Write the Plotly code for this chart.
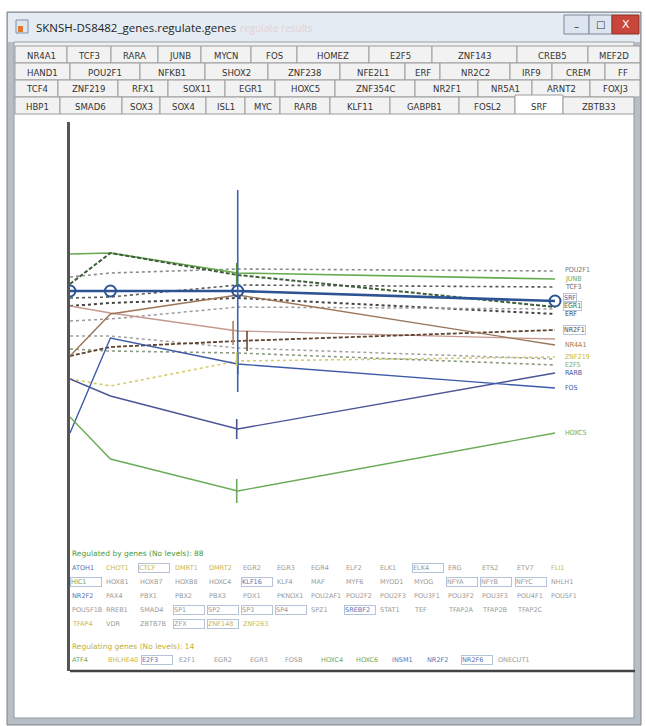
import plotly.graph_objects as go

W, H = 646, 726

# ---------------- data ----------------
times = [0, 2, 8.3, 24]

junb   = [4.17, 4.18, 3.98, 3.92]
egr1   = [3.87, 4.18, 3.96, 3.64]
srf    = [3.80, 3.80, 3.80, 3.70]
pou2f1 = [3.94, 3.98, 4.02, 4.00]
tcf3   = [3.73, 3.74, 3.86, 3.84]
erf    = [3.65, 3.68, 3.73, 3.57]
e2f1d  = [3.50, 3.52, 3.64, 3.62]
dot2   = [3.35, 3.35, 3.23, 3.12]
e2f5   = [3.22, 3.20, 3.18, 3.06]
znf219 = [2.92, 2.85, 3.10, 3.14]
nr2f1  = [3.15, 3.24, 3.30, 3.41]
nr4a1  = [3.15, 3.57, 3.76, 3.26]
pinkl  = [3.65, 3.58, 3.40, 3.32]
fos    = [2.38, 3.33, 3.07, 2.83]
rarb   = [2.92, 2.75, 2.42, 2.98]
hoxc5  = [2.54, 2.12, 1.80, 2.38]

# error ticks (time, value, half-size)
err_t   = [8.3, 8.25, 8.07, 8.76, 8.3, 8.25, 8.25, 8.25]
err_v   = [3.80, 3.97, 3.38, 3.30, 3.07, 2.42, 1.80, 3.12]
err_e   = [1.01, 0.11, 0.12, 0.10, 0.10, 0.10, 0.12, 0.07]

end_labels = ["POU2F1", "JUNB", "TCF3", "SRF", "EGR1", "ERF", "NR2F1",
              "NR4A1", "ZNF219", "E2F5", "RARB", "FOS", "HOXC5"]
end_label_vals = [4.01, 3.925, 3.845, 3.735, 3.655, 3.575, 3.41,
                  3.26, 3.145, 3.065, 2.985, 2.83, 2.38]

tabs_row1 = ["NR4A1", "TCF3", "RARA", "JUNB", "MYCN", "FOS", "HOMEZ", "E2F5", "ZNF143", "CREB5", "MEF2D"]
tabs_row2 = ["HAND1", "POU2F1", "NFKB1", "SHOX2", "ZNF238", "NFE2L1", "ERF", "NR2C2", "IRF9", "CREM", "FF"]
tabs_row3 = ["TCF4", "ZNF219", "RFX1", "SOX11", "EGR1", "HOXC5", "ZNF354C", "NR2F1", "NR5A1", "ARNT2", "FOXJ3"]
tabs_row4 = ["HBP1", "SMAD6", "SOX3", "SOX4", "ISL1", "MYC", "RARB", "KLF11", "GABPB1", "FOSL2", "SRF", "ZBTB33"]

reg_by = [
    ["ATOH1", "CHOT1", "CTCF", "DMRT1", "DMRT2", "EGR2", "EGR3", "EGR4", "ELF2", "ELK1", "ELK4", "ERG", "ETS2", "ETV7", "FLI1"],
    ["HIC1", "HOXB1", "HOXB7", "HOXB8", "HOXC4", "KLF16", "KLF4", "MAF", "MYF6", "MYOD1", "MYOG", "NFYA", "NFYB", "NFYC", "NHLH1"],
    ["NR2F2", "PAX4", "PBX1", "PBX2", "PBX3", "PDX1", "PKNOX1", "POU2AF1", "POU2F2", "POU2F3", "POU3F1", "POU3F2", "POU3F3", "POU4F1", "POU5F1"],
    ["POU5F1B", "RREB1", "SMAD4", "SP1", "SP2", "SP3", "SP4", "SPZ1", "SREBF2", "STAT1", "TEF", "TFAP2A", "TFAP2B", "TFAP2C"],
    ["TFAP4", "VDR", "ZBTB7B", "ZFX", "ZNF148", "ZNF263"],
]
reg_ing = ["ATF4", "BHLHE40", "E2F3", "E2F1", "EGR2", "EGR3", "FOSB", "HOXC4", "HOXC6", "INSM1", "NR2F2", "NR2F6", "ONECUT1"]

# ---------------- styles ----------------
YEL, GRN, GRY, BLU = "#c9b850", "#74a860", "#9a9a9a", "#5a72b0"
reg_by_colors = [
    [BLU, YEL, YEL, YEL, YEL, GRY, GRY, GRY, GRY, GRY, GRY, GRY, GRY, GRY, YEL],
    [GRN, GRY, GRY, GRY, GRY, BLU, GRY, GRY, GRY, GRY, GRY, GRY, GRY, GRY, GRY],
    [BLU, GRY, GRY, GRY, GRY, GRY, GRY, GRY, GRY, GRY, GRY, GRY, GRY, GRY, GRY],
    [GRY, GRY, GRY, GRY, GRY, GRY, GRY, GRY, BLU, GRY, GRY, GRY, GRY, GRY],
    [YEL, GRY, GRY, GRY, YEL, YEL],
]
reg_by_boxed = [
    [2, 10], [0, 5, 11, 12, 13], [], [3, 4, 5, 6, 8], [3, 4],
]
reg_ing_colors = [GRN, YEL, BLU, GRY, GRY, GRY, GRY, GRN, GRN, BLU, BLU, BLU, GRY]
reg_ing_boxed = [2, 11]

series = [
    (pou2f1, "#8c8c8c", 1.6, "dot"),
    (tcf3,   "#5a5a5a", 1.6, "dot"),
    (erf,    "#454545", 2.0, "dot"),
    (e2f1d,  "#9a9a9a", 1.5, "dot"),
    (dot2,   "#a0a0a0", 1.5, "dot"),
    (e2f5,   "#8a9a82", 1.6, "dot"),
    (znf219, "#d6cc6a", 1.6, "dot"),
    (pinkl,  "#c49a90", 1.3, "solid"),
    (nr2f1,  "#5e4430", 1.8, "4px,2px"),
    (nr4a1,  "#9c7658", 1.4, "solid"),
    (junb,   "#66aa50", 1.6, "solid"),
    (egr1,   "#3e5e3a", 2.0, "4px,2px"),
    (rarb,   "#4a5596", 1.4, "solid"),
    (fos,    "#3d5aa8", 1.4, "solid"),
    (hoxc5,  "#6aac58", 1.4, "solid"),
]
err_colors = ["#3d64a8", "#4f8a3e", "#b08060", "#6e4a30", "#3d5aa8", "#4a5596", "#6aac58", "#d6cc6a"]
end_label_colors = ["#777777", "#6aa850", "#666666", "#3d64a8", "#3e6e3a", "#444444", "#5e4430",
                    "#9c7658", "#c8b838", "#86a860", "#4a5596", "#3d5aa8", "#6aac58"]
end_label_boxed = ["SRF", "EGR1", "NR2F1"]


def px(x):
    return x / W


def py(y):
    return 1 - y / H


fig = go.Figure()

for vals, col, wid, dash in series:
    fig.add_trace(go.Scatter(x=times, y=vals, mode="lines",
                             line=dict(color=col, width=wid, dash=dash),
                             hoverinfo="skip", showlegend=False))

fig.add_trace(go.Scatter(x=times, y=srf, mode="lines+markers",
                         line=dict(color="#2c5494", width=2.6),
                         marker=dict(symbol="circle-open", size=11, color="#2c5494",
                                     line=dict(width=2, color="#2c5494")),
                         hoverinfo="skip", showlegend=False))

for t, v, e, c in zip(err_t, err_v, err_e, err_colors):
    fig.add_trace(go.Scatter(x=[t], y=[v], mode="markers",
                             marker=dict(size=1, color=c),
                             error_y=dict(type="data", array=[e], visible=True,
                                          color=c, thickness=1.6, width=0),
                             hoverinfo="skip", showlegend=False))

shapes = []
ann = []


def rect(x0, y0, x1, y1, fill, line=None, lw=1):
    shapes.append(dict(type="rect", xref="paper", yref="paper",
                       x0=px(x0), x1=px(x1), y0=py(y1), y1=py(y0),
                       fillcolor=fill, line=dict(color=line or fill, width=lw if line else 0),
                       layer="below"))


def text(x, y, s, size=10, color="#222", anchor="left", fam="DejaVu Sans", **kw):
    d = dict(xref="paper", yref="paper", x=px(x), y=py(y), text=s, showarrow=False,
             xanchor=anchor, yanchor="middle", font=dict(size=size, color=color, family=fam))
    d.update(kw)
    ann.append(d)


# window frame
rect(7, 12, 641, 725, "#b8bec6", "#7c8088", 1)
rect(8, 13, 640, 42, "#e4ebf3")
rect(14, 42, 634, 718, "#f0f0f0", "#9aa0a6", 1)
rect(15, 114, 633, 717, "#ffffff")
# title icon
rect(16, 20, 28, 33, "#dfe6ee", "#8090a8", 1)
rect(18, 26, 23, 32, "#e07830")
text(34, 28, "SKNSH-DS8482_genes.regulate.genes", size=11.5, color="#1e1e1e", fam="Open Sans")
text(238, 28, "regulate results", size=10, color="#e3d2d2", fam="Open Sans")
# title buttons
rect(564, 15, 589, 34, "#dde6f0", "#7d8796", 1)
rect(589, 15, 612, 34, "#dde6f0", "#7d8796", 1)
rect(612, 15, 639, 34, "#c8463a", "#8a3028", 1)
text(576.5, 26, "–", size=10, color="#333", anchor="center")
text(600.5, 24, "□", size=10, color="#333", anchor="center")
text(625.5, 24, "X", size=11, color="#ffffff", anchor="center", fam="DejaVu Sans")

# tabs
row_tops = [46, 63, 80, 97]
row_h = 17
bounds = [
    [15, 67, 111, 158, 201, 251, 297, 369, 432, 517, 588, 640],
    [15, 70, 140, 205, 268, 340, 405, 440, 510, 552, 605, 640],
    [15, 58, 118, 168, 225, 275, 335, 415, 478, 532, 590, 640],
    [15, 60, 122, 160, 206, 245, 280, 330, 390, 459, 515, 563, 634],
]
for r, labels in enumerate([tabs_row1, tabs_row2, tabs_row3, tabs_row4]):
    b = bounds[r]
    y0 = row_tops[r]
    for i, lab in enumerate(labels):
        sel = lab == "SRF" and r == 3
        fill = "#ffffff" if sel else "#f2f2f2"
        rect(b[i], y0 - (2 if sel else 0), b[i + 1], y0 + row_h, fill, "#9c9c9c", 1)
        text((b[i] + b[i + 1]) / 2, y0 + row_h / 2 + 0.5, lab, size=9.5,
             color="#333333", anchor="center", fam="DejaVu Sans Condensed")

# bottom panel line and chart text
shapes.append(dict(type="line", xref="paper", yref="paper", x0=px(70), x1=px(635),
                   y0=py(671), y1=py(671), line=dict(color="#444", width=2.5)))

text(70, 553, "Regulated by genes (No levels): 88", size=7.5, color="#4e9a3a")
row_y = [568, 582, 596, 610, 624]
for r, genes in enumerate(reg_by):
    for i, g in enumerate(genes):
        extra = {}
        if i in reg_by_boxed[r]:
            extra = dict(bordercolor="#b4c2da", borderwidth=1, borderpad=0, width=30, align="left")
        text(70 + 34.2 * i, row_y[r], g, size=6.5, color=reg_by_colors[r][i], **extra)

text(70, 646, "Regulating genes (No levels): 14", size=7.5, color="#c4b030")
for i, g in enumerate(reg_ing):
    extra = {}
    if i in reg_ing_boxed:
        extra = dict(bordercolor="#b4c2da", borderwidth=1, borderpad=0, width=30, align="left")
    text(70 + 35.5 * i, 660, g, size=6.5, color=reg_ing_colors[i], **extra)

# end-of-line labels (data-anchored)
for lab, v, c in zip(end_labels, end_label_vals, end_label_colors):
    d = dict(xref="x", yref="y", x=24, y=v, text=lab, showarrow=False,
             xanchor="left", yanchor="middle", xshift=8,
             font=dict(size=7, color=c, family="DejaVu Sans Condensed"))
    if lab in end_label_boxed:
        d.update(bordercolor="#b8c4d8", borderwidth=1, borderpad=0)
    ann.append(d)

y_top, y_bot = 122, 671
x_left, x_right, x_end = 70, 635, 555
fig.update_layout(
    width=W, height=H, margin=dict(l=0, r=0, t=0, b=0),
    paper_bgcolor="#ffffff", plot_bgcolor="rgba(0,0,0,0)",
    xaxis=dict(domain=[px(x_left), px(x_right)],
               range=[0, 24 * (x_right - x_left) / (x_end - x_left)],
               showgrid=False, zeroline=False, showticklabels=False, ticks="",
               showline=False, fixedrange=True),
    yaxis=dict(domain=[py(y_bot), py(y_top)], range=[0, (y_bot - y_top) / 100],
               showgrid=False, zeroline=False, showticklabels=False, ticks="",
               showline=True, linecolor="#555555", linewidth=2.5, fixedrange=True),
    shapes=shapes, annotations=ann,
)

fig.write_html("out.html")
